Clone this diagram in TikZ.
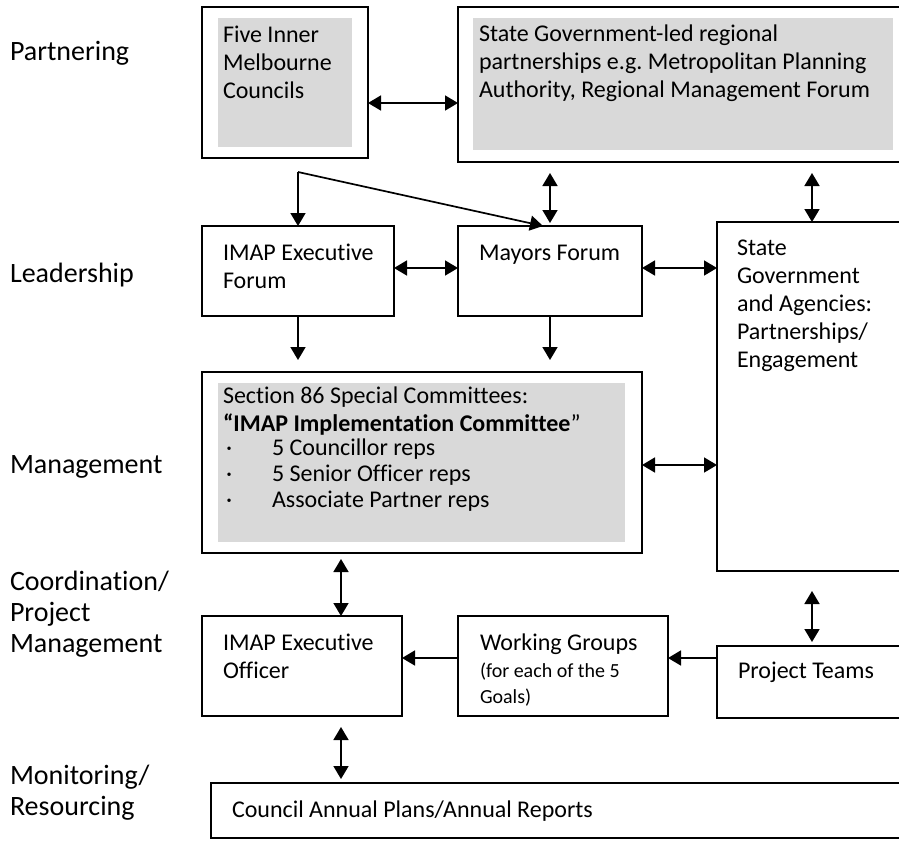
\documentclass[tikz,border=0pt]{standalone}
\usepackage{fontspec}
\setmainfont{Carlito}[Ligatures={NoCommon}]
\usetikzlibrary{arrows.meta,calc}
\definecolor{graybg}{HTML}{D9D9D9}
\tikzset{
  box/.style={draw, line width=1.7pt, anchor=north west, inner sep=0pt, outer sep=0pt},
  shade/.style={fill=graybg, anchor=north west, inner sep=0pt, outer sep=0pt},
  txt/.style={anchor=base west, inner sep=0pt, outer sep=0pt, font=\fontsize{24}{28}\selectfont},
  smalltxt/.style={anchor=base west, inner sep=0pt, outer sep=0pt, font=\fontsize{20}{26}\selectfont},
  lbl/.style={anchor=base west, inner sep=0pt, outer sep=0pt, font=\fontsize{28}{31}\selectfont},
  tipA/.tip={Triangle[length=13pt,width=15pt]},
  arr/.style={-tipA, line width=1.7pt},
  dbl/.style={tipA-tipA, line width=1.7pt},
  ln/.style={line width=1.7pt}
}
\begin{document}
\frenchspacing
\begin{tikzpicture}[x=1pt,y=-1pt]
\useasboundingbox (0,0) rectangle (899,844);
\clip (0,0) rectangle (899,844);

% ---- left labels
\node[lbl] (l1) at (10,60) {Partnering};
\node[lbl] (l2) at (10,282) {Leadership};
\node[lbl] (l3) at (10,473) {Management};
\node[lbl] (l4) at (10,590) {\parbox[t]{200pt}{Coordination/\\Project\\Management}};
\node[lbl] (l5) at (10,784) {\parbox[t]{200pt}{Monitoring/\\Resourcing}};

% ---- shaded backgrounds
\node[shade, minimum width=134pt, minimum height=129pt] (fiveg) at (218,18) {};
\node[shade, minimum width=420pt, minimum height=132pt] (stateg) at (473,18) {};
\node[shade, minimum width=407pt, minimum height=159pt] (s86g) at (218,383) {};

% ---- boxes
\node[box, minimum width=166pt, minimum height=151pt] (five) at (202,7) {};
\node[box, minimum width=460pt, minimum height=155pt] (state) at (458,7) {};
\node[box, minimum width=192pt, minimum height=90pt] (ief) at (202,226) {};
\node[box, minimum width=184pt, minimum height=90pt] (mayors) at (458,226) {};
\node[box, minimum width=190pt, minimum height=349pt] (sga) at (717,222) {};
\node[box, minimum width=440pt, minimum height=181pt] (s86) at (202,372) {};
\node[box, minimum width=200pt, minimum height=100pt] (ieo) at (202,616) {};
\node[box, minimum width=210pt, minimum height=100pt] (wg) at (458,616) {};
\node[box, minimum width=190pt, minimum height=72pt] (pt) at (717,646) {};
\node[box, minimum width=710pt, minimum height=55pt] (council) at (211,783) {};

% ---- texts
\node[txt] (t1) at (223,42) {\parbox[t]{140pt}{Five Inner\\Melbourne\\Councils}};
\node[txt] (t2) at (479,41) {\parbox[t]{420pt}{State Government-led regional\\partnerships e.g. Metropolitan Planning\\Authority, Regional Management Forum}};
\node[txt] (t3) at (223,260) {\parbox[t]{170pt}{IMAP Executive\\Forum}};
\node[txt] (t4) at (479,260) {Mayors Forum};
\node[txt] (t5) at (737,255) {\parbox[t]{170pt}{State\\Government\\and Agencies:\\Partnerships/\\Engagement}};
\node[txt] (t6) at (223,403) {\parbox[t]{410pt}{Section 86 Special Committees:\\\textbf{“IMAP Implementation Committee}”}};
\node[txt] (b1) at (226,455) {·};
\node[txt] (b2) at (226,481) {·};
\node[txt] (b3) at (226,507) {·};
\node[txt] (t7) at (272,455) {5 Councillor reps};
\node[txt] (t8) at (272,481) {5 Senior Officer reps};
\node[txt] (t9) at (272,507) {Associate Partner reps};
\node[txt] (t10) at (223,650) {\parbox[t]{170pt}{IMAP Executive\\Officer}};
\node[txt] (t11) at (480,650) {Working Groups};
\node[smalltxt] (t12) at (480,677) {\parbox[t]{180pt}{(for each of the 5\\Goals)}};
\node[txt] (t13) at (738,678) {Project Teams};
\node[txt] (t14) at (232,817) {Council Annual Plans/Annual Reports};

% ---- helper coordinates
\coordinate (split) at (298,172);
\coordinate (row1) at (0,103);
\coordinate (row2) at (0,268);
\coordinate (row3) at (0,465);
\coordinate (row4) at (0,658);
\coordinate (col1) at (341,0);
\coordinate (col2) at (812,0);

% ---- connectors
\draw[dbl] (five.east |- row1) -- (state.west |- row1);
\draw[arr] (split) -- (ief.north);
\draw[arr] (split) -- ([xshift=-7pt]mayors.north);
\draw[dbl, shorten <=11pt, shorten >=3pt] (mayors.north |- state.south) -- (mayors.north);
\draw[dbl, shorten <=11pt] (col2 |- state.south) -- (col2 |- sga.north);
\draw[dbl] (ief.east |- row2) -- (mayors.west |- row2);
\draw[dbl] (mayors.east |- row2) -- (sga.west |- row2);
\draw[arr, shorten >=12pt] (ief.south) -- (ief.south |- s86.north);
\draw[arr, shorten >=12pt] (mayors.south) -- (mayors.south |- s86.north);
\draw[dbl] (s86.east |- row3) -- (sga.west |- row3);
\draw[dbl, shorten <=6pt] (col1 |- s86.south) -- (col1 |- ieo.north);
\draw[arr] (wg.west |- row4) -- (ieo.east |- row4);
\draw[arr] (pt.west |- row4) -- (wg.east |- row4);
\draw[dbl, shorten <=20pt, shorten >=4pt] (col2 |- sga.south) -- (col2 |- pt.north);
\draw[dbl, shorten <=11pt, shorten >=4pt] (col1 |- ieo.south) -- (col1 |- council.north);
\end{tikzpicture}
\end{document}
